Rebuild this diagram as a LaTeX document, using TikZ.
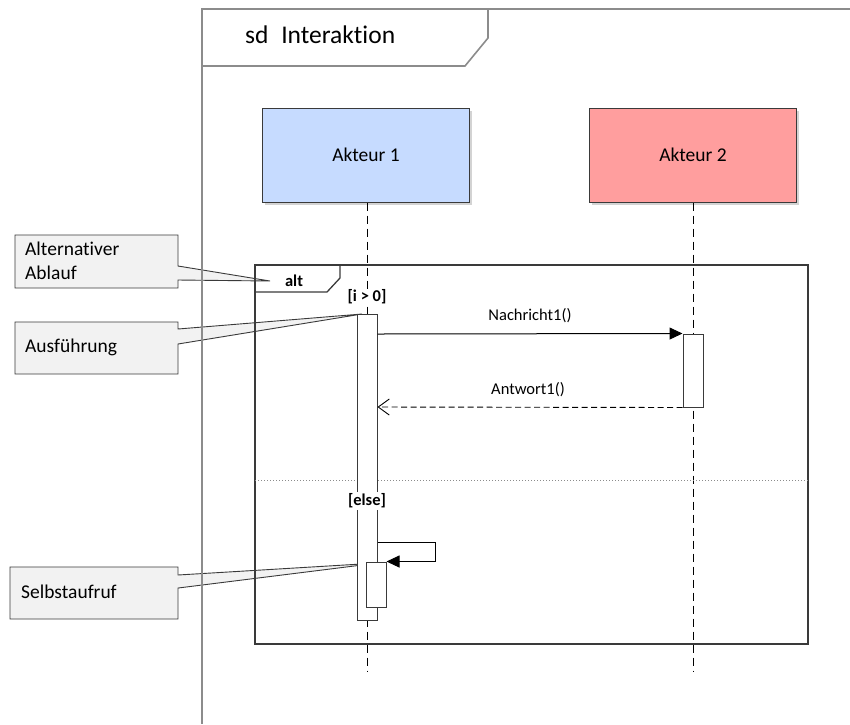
\documentclass[tikz,border=0pt]{standalone}
\usepackage{fontspec}
\setmainfont{Carlito}[Ligatures=NoCommon]
\usetikzlibrary{arrows.meta,shadows,calc}
\definecolor{actA}{HTML}{C6DBFF}
\definecolor{actB}{HTML}{FF9E9E}
\definecolor{calloutfill}{HTML}{F2F2F2}
\definecolor{framegray}{HTML}{8C8C8C}
\definecolor{darkline}{HTML}{3A3A3A}
\tikzset{
  actor/.style={draw=darkline, line width=1pt, minimum width=207pt, minimum height=94pt,
    inner sep=0pt, font=\fontsize{19.5}{22}\selectfont,
    drop shadow={shadow xshift=2pt, shadow yshift=-3pt, opacity=0.35}},
  lifeline/.style={draw=black, line width=0.9pt, dash pattern=on 8pt off 5pt},
  activation/.style={draw=darkline, fill=white, line width=1pt, minimum width=20pt, inner sep=0pt},
  callout/.style={draw=darkline, fill=calloutfill, line width=0.9pt},
  callouttext/.style={anchor=west, inner sep=0pt, font=\fontsize{19.5}{24}\selectfont, align=left},
  guard/.style={inner sep=0pt, font=\fontsize{16.5}{18}\selectfont\bfseries},
  msglabel/.style={inner sep=0pt, font=\fontsize{16.5}{18}\selectfont},
  syncmsg/.style={draw=black, line width=1pt, -{Triangle[length=13pt,width=12pt]}},
  replymsg/.style={draw=black, line width=0.9pt, dash pattern=on 6pt off 3.5pt, -{Straight Barb[length=11pt,width=16pt]}},
  framewin/.style={draw=framegray, line width=1.6pt},
  altframe/.style={draw=darkline, line width=1.3pt},
}
\begin{document}
\begin{tikzpicture}[x=1pt,y=-1pt]
\useasboundingbox (0,0) rectangle (850,724);
% callouts
\path[callout] (15,235) -- (178,235) -- (178,266) -- (270,281) -- (178,280) -- (178,288) -- (15,288) -- cycle;
\node[callouttext] (calt) at (25,261) {Alternativer\\Ablauf};
\path[callout] (15,322) -- (178,322) -- (178,329) -- (362,314) -- (178,344) -- (178,374) -- (15,374) -- cycle;
\node[callouttext] (cexec) at (25,347) {Ausführung};
\path[callout] (10,567) -- (178,567) -- (178,575) -- (378,563) -- (178,588) -- (178,619) -- (10,619) -- cycle;
\node[callouttext] (cself) at (21,592) {Selbstaufruf};
% outer frame
\draw[framewin] (850,9) -- (202,9) -- (202,724);
\draw[framewin] (202,66) -- (465,66) -- (488,38) -- (488,9);
\node[anchor=west, inner sep=0pt, font=\fontsize{25.5}{28}\selectfont] (title) at (245,35) {sd\enspace Interaktion};
% actors
\node[actor, fill=actA] (a1) at (366,155) {Akteur 1};
\node[actor, fill=actB] (a2) at (693,155) {Akteur 2};
\coordinate (end1) at (367,672);
\coordinate (end2) at (693,672);
\draw[lifeline] (a1.south -| end1) -- (end1);
\draw[lifeline] (a2.south -| end2) -- (end2);
% alt frame
\draw[altframe] (255,265) rectangle (808,644);
\draw[altframe] (340,265) -- (340,278) -- (327,292) -- (255,292);
\node[guard] (altlbl) at (294,281) {alt};
\draw[draw=black!45, line width=1pt, dotted] (255,480) -- (808,480);
\node[guard, fill=white, inner sep=1pt] (g1) at (367,297) {[i > 0]};
% activations
\node[activation, minimum height=306pt] (act1) at (367,467) {};
\node[activation, minimum height=73pt] (act2) at (693,370.5) {};
\node[guard, fill=white, inner sep=1.5pt] (g2) at (367,501) {[else]};
% messages
\coordinate (m1) at (0,334);
\draw[syncmsg] (act1.east |- m1) -- (act2.north west);
\node[msglabel] (l1) at (530,316) {Nachricht1()};
\coordinate (m2) at (0,407);
\draw[replymsg] (act2.south west) -- (act1.east |- m2);
\node[msglabel] (l2) at (528,390) {Antwort1()};
% self call
\node[activation, minimum height=45pt] (act3) at (376,584.5) {};
\coordinate (s1) at (0,542);
\coordinate (sr) at (435,542);
\draw[syncmsg] (act1.east |- s1) -- (sr) -- (sr |- act3.north) -- (act3.north east);
\end{tikzpicture}
\end{document}
